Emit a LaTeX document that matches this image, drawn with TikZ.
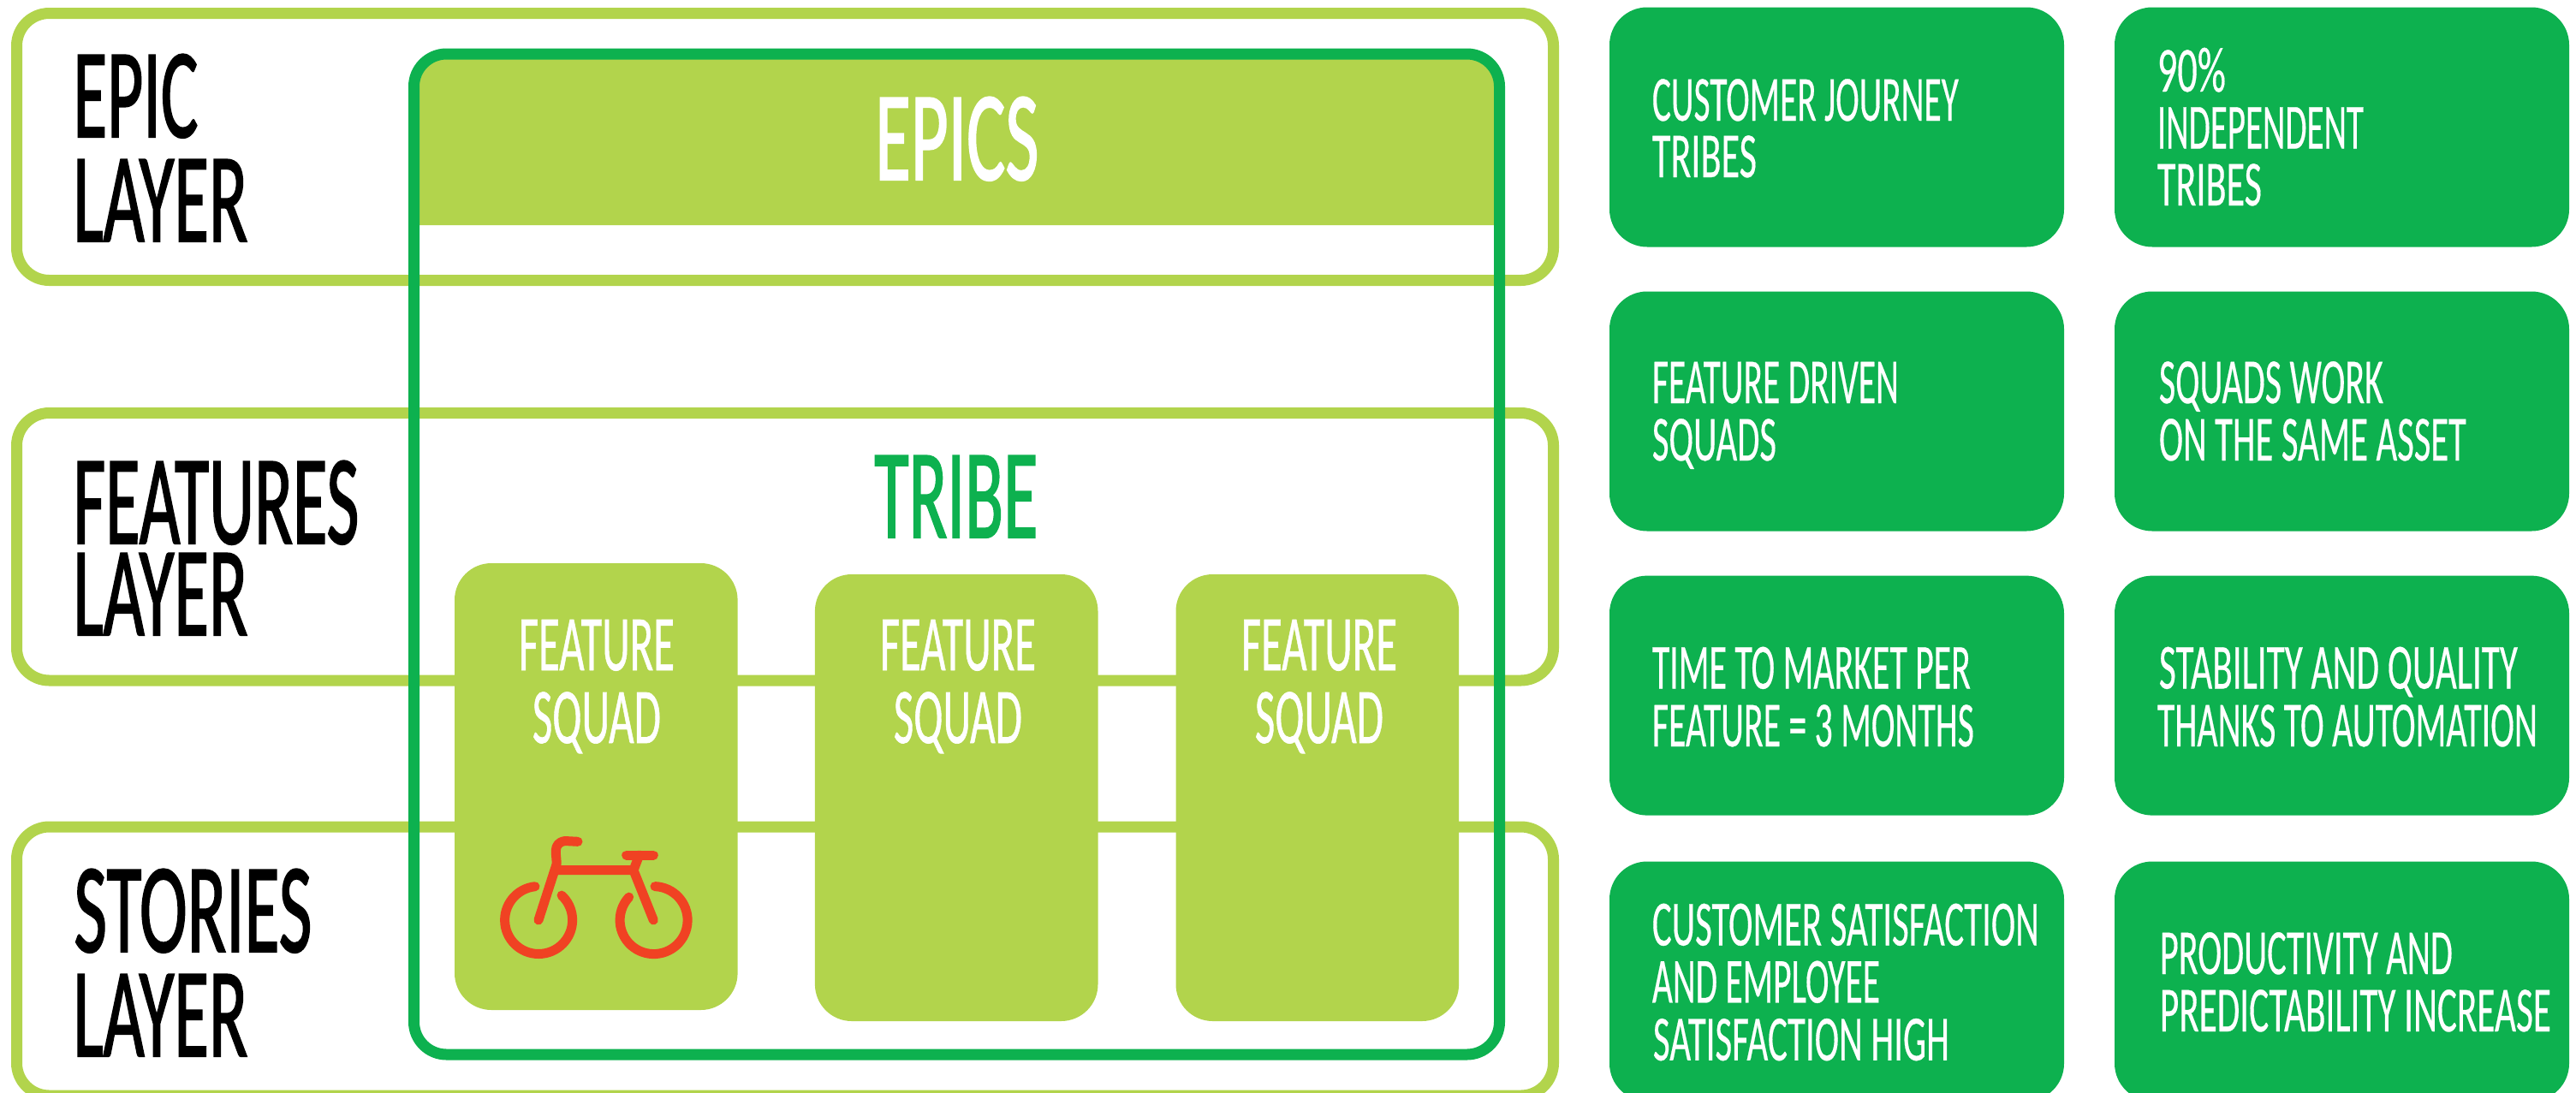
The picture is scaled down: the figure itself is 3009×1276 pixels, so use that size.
\documentclass[tikz,border=0pt]{standalone}
\usepackage{fontspec}
\usepackage{graphicx}
\setmainfont{Carlito}
\newfontfamily\bigface[FakeBold=1.6]{Carlito}
\newfontfamily\squadface[FakeBold=0.8]{Carlito}
\newfontfamily\infoface[FakeBold=0.4]{Carlito}
\definecolor{lime}{HTML}{B2D44C}
\definecolor{leaf}{HTML}{0DB14F}
\definecolor{bikered}{HTML}{F04223}
\newlength\fitw
\newcommand{\fitto}[2]{\settowidth\fitw{#2}\pgfmathsetmacro\fitr{#1*0.5/\the\fitw}\scalebox{\fitr}[1]{#2}}
\tikzset{
  layerbox/.style={draw=lime,line width=6.5pt,rounded corners=19pt,minimum width=897.5pt,inner sep=0pt},
  tribebox/.style={draw=leaf,line width=6.5pt,rounded corners=19pt,inner sep=0pt},
  squadbox/.style={fill=lime,rounded corners=21.5pt,minimum width=165.3pt,minimum height=261pt,inner sep=0pt},
  infobox/.style={fill=leaf,rounded corners=22pt,minimum width=265.5pt,minimum height=140pt,inner sep=0pt},
  biglab/.style={anchor=base west,inner sep=0pt,text=black,font=\fontsize{74.4pt}{74.4pt}\bigface},
  squadlab/.style={anchor=base west,inner sep=0pt,text=white,font=\fontsize{45.9pt}{45.9pt}\squadface},
  infolab/.style={anchor=base west,inner sep=0pt,text=white,font=\fontsize{37.6pt}{37.6pt}\infoface},
  bikeline/.style={draw=bikered,line width=5.5pt,line cap=round,line join=round}
}
\begin{document}
\begin{tikzpicture}[x=0.5pt,y=-0.5pt]
\path[use as bounding box,clip] (0,0) rectangle (3009,1276);
% layers
\node (layerE) [layerbox,minimum height=156pt] at (917,171.5) {};
\node (layerF) [layerbox,minimum height=156.25pt] at (917,638.75) {};
\node (layerS) [layerbox,minimum height=157pt] at (917,1123) {};
% epics band
\fill[lime] (483.5,263) {[rounded corners=19pt] -- (483.5,63) -- (1751.5,63)} -- (1751.5,263) -- cycle;
% tribe
\node (tribe) [tribebox,minimum width=634pt,minimum height=584.5pt] at (1117.5,647.5) {};
% squads
\node (squadA) [squadbox] at (696.3,919) {};
\node (squadB) [squadbox] at (1117.2,932) {};
\node (squadC) [squadbox] at (1538.8,932) {};
% layer labels
\node (t1) [biglab] at (85,160) {\fitto{146}{EPIC}};
\node (t2) [biglab] at (85,282) {\fitto{204}{LAYER}};
\node (t3) [biglab] at (85,635) {\fitto{334}{FEATURES}};
\node (t4) [biglab] at (85,742) {\fitto{204}{LAYER}};
\node (t5) [biglab] at (86,1112) {\fitto{278}{STORIES}};
\node (t6) [biglab] at (85,1234) {\fitto{204}{LAYER}};
\node (t7) [biglab,text=white] at (1022,210) {\fitto{191}{EPICS}};
\node (t8) [biglab,text=leaf] at (1021,628) {\fitto{191}{TRIBE}};
% squad labels
\node (a1) [squadlab] at (605.5,783) {\fitto{182}{FEATURE}};
\node (a2) [squadlab] at (621.5,868) {\fitto{150}{SQUAD}};
\node (b1) [squadlab] at (1027.5,783) {\fitto{182}{FEATURE}};
\node (b2) [squadlab] at (1043.5,868) {\fitto{150}{SQUAD}};
\node (c1) [squadlab] at (1449.5,783) {\fitto{182}{FEATURE}};
\node (c2) [squadlab] at (1465.5,868) {\fitto{150}{SQUAD}};
% info boxes
\node (i1) [infobox] at (2145.5,148.5) {};
\node (i2) [infobox] at (2735.5,148.5) {};
\node (i3) [infobox] at (2145.5,480.5) {};
\node (i4) [infobox] at (2735.5,480.5) {};
\node (i5) [infobox] at (2145.5,812.6) {};
\node (i6) [infobox] at (2735.5,812.6) {};
\node (i7) [infobox] at (2145.5,1146.5) {};
\node (i8) [infobox] at (2735.5,1146.5) {};
% info labels
\node (l1) [infolab] at (1929.5,141) {\fitto{358}{CUSTOMER JOURNEY}};
\node (l2) [infolab] at (1929.5,207) {\fitto{122}{TRIBES}};
\node (l3) [infolab] at (2519.5,107) {\fitto{80}{90\%}};
\node (l4) [infolab] at (2519.5,173.5) {\fitto{241}{INDEPENDENT}};
\node (l5) [infolab] at (2519.5,240) {\fitto{122}{TRIBES}};
\node (l6) [infolab] at (1929.5,471) {\fitto{288}{FEATURE DRIVEN}};
\node (l7) [infolab] at (1929.5,538) {\fitto{145}{SQUADS}};
\node (l8) [infolab] at (2521.5,471) {\fitto{262}{SQUADS WORK}};
\node (l9) [infolab] at (2521.5,538) {\fitto{359}{ON THE SAME ASSET}};
\node (l10) [infolab] at (1929.5,804.5) {\fitto{372}{TIME TO MARKET PER}};
\node (l11) [infolab] at (1929.5,872) {\fitto{376}{FEATURE = 3 MONTHS}};
\node (l12) [infolab] at (2521.5,804.5) {\fitto{419}{STABILITY AND QUALITY}};
\node (l13) [infolab] at (2519.5,872) {\fitto{444}{THANKS TO AUTOMATION}};
\node (l14) [infolab] at (1929.5,1104.5) {\fitto{452}{CUSTOMER SATISFACTION}};
\node (l15) [infolab] at (1929.5,1171.4) {\fitto{266}{AND EMPLOYEE}};
\node (l16) [infolab] at (1930.5,1238.8) {\fitto{346}{SATISFACTION HIGH}};
\node (l17) [infolab] at (2522.5,1138) {\fitto{342}{PRODUCTIVITY AND}};
\node (l18) [infolab] at (2522.5,1205) {\fitto{457}{PREDICTABILITY INCREASE}};
% bicycle
\draw[bikeline] (625,1035.7) arc[start angle=96,end angle=407,radius=19.75pt];
\draw[bikeline] (765,1035.6) arc[start angle=88,end angle=-223,radius=19.75pt];
\draw[bikeline] (629,1075) -- (650,1010) .. controls (651,1000) and (644,985) .. (660,982.5) -- (675,983.3);
\draw[bikeline] (652,1016.7) -- (740,1016.7) -- (763.3,1075);
\draw[bikeline] (740,1016.7) -- (746.7,999);
\draw[bikeline] (731.7,999) -- (763.3,999);
\end{tikzpicture}
\end{document}
